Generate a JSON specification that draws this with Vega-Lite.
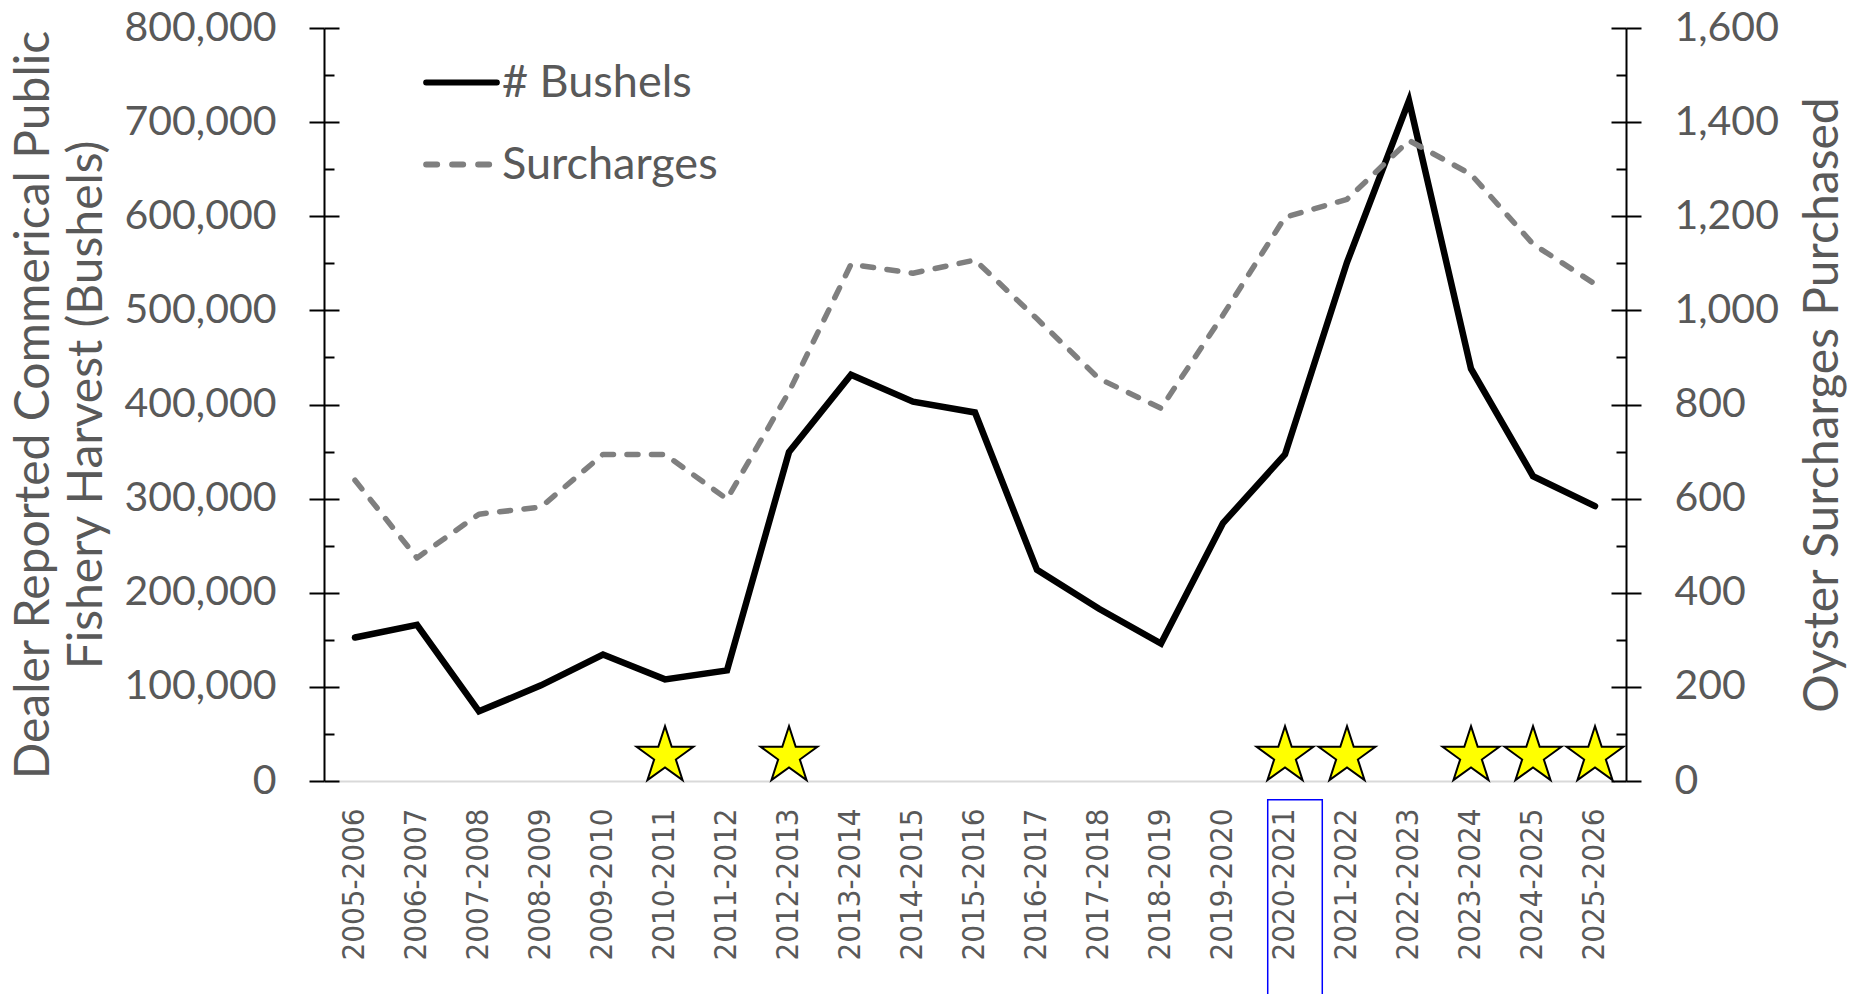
{
  "$schema": "https://vega.github.io/schema/vega-lite/v6.json",
  "width": 1302,
  "height": 753,
  "autosize": {"type": "none"},
  "padding": {"left": 324, "top": 28, "right": 229, "bottom": 213},
  "background": "white",
  "config": {"view": {"stroke": null}, "font": "Lato"},
  "data": {
    "values": [
      {"season": "2005-2006", "bushels": 152400, "surcharges": 639, "star": false},
      {"season": "2006-2007", "bushels": 166000, "surcharges": 474, "star": false},
      {"season": "2007-2008", "bushels": 74000, "surcharges": 567, "star": false},
      {"season": "2008-2009", "bushels": 101600, "surcharges": 582, "star": false},
      {"season": "2009-2010", "bushels": 134400, "surcharges": 694, "star": false},
      {"season": "2010-2011", "bushels": 108000, "surcharges": 694, "star": true},
      {"season": "2011-2012", "bushels": 117500, "surcharges": 599, "star": false},
      {"season": "2012-2013", "bushels": 349500, "surcharges": 827, "star": true},
      {"season": "2013-2014", "bushels": 431700, "surcharges": 1098, "star": false},
      {"season": "2014-2015", "bushels": 403000, "surcharges": 1079, "star": false},
      {"season": "2015-2016", "bushels": 391500, "surcharges": 1107, "star": false},
      {"season": "2016-2017", "bushels": 224300, "surcharges": 982, "star": false},
      {"season": "2017-2018", "bushels": 183000, "surcharges": 855, "star": false},
      {"season": "2018-2019", "bushels": 146000, "surcharges": 792, "star": false},
      {"season": "2019-2020", "bushels": 274000, "surcharges": 990, "star": false},
      {"season": "2020-2021", "bushels": 347000, "surcharges": 1198, "star": true},
      {"season": "2021-2022", "bushels": 551000, "surcharges": 1236, "star": true},
      {"season": "2022-2023", "bushels": 722800, "surcharges": 1361, "star": false},
      {"season": "2023-2024", "bushels": 438000, "surcharges": 1289, "star": true},
      {"season": "2024-2025", "bushels": 323800, "surcharges": 1141, "star": true},
      {"season": "2025-2026", "bushels": 292000, "surcharges": 1056, "star": true}
    ]
  },
  "encoding": {
    "x": {
      "field": "season",
      "type": "ordinal",
      "sort": null,
      "scale": {"type": "band", "paddingInner": 0, "paddingOuter": 0},
      "axis": {
        "title": null,
        "labelAngle": -90,
        "labelAlign": "right",
        "labelBaseline": "middle",
        "labelPadding": 27,
        "labelFont": "Liberation Sans Narrow, DejaVu Sans Condensed, Roboto Condensed, Liberation Sans",
        "labelFontSize": 31,
        "labelColor": "#595959",
        "ticks": false,
        "domainColor": "#d9d9d9",
        "domainWidth": 2,
        "grid": false
      }
    }
  },
  "layer": [
    {
      "mark": {"type": "line", "strokeWidth": 6.5, "strokeJoin": "miter", "strokeCap": "round"},
      "encoding": {
        "y": {
          "field": "bushels",
          "type": "quantitative",
          "scale": {"domain": [0, 800000], "nice": false},
          "axis": {
            "orient": "left",
            "values": [0, 100000, 200000, 300000, 400000, 500000, 600000, 700000, 800000],
            "format": ",.0f",
            "labelOverlap": false,
            "labelFlush": false,
            "labelFont": "Lato",
            "labelFontSize": 41,
            "labelColor": "#595959",
            "labelPadding": 33,
            "tickSize": 15,
            "tickColor": "#000000",
            "tickWidth": 2,
            "domainColor": "#000000",
            "domainWidth": 2,
            "grid": false,
            "title": ["Dealer Reported Commerical Public", "Fishery Harvest (Bushels)"],
            "titleFont": "Lato",
            "titleFontSize": 48,
            "titleFontWeight": "normal",
            "titleColor": "#595959",
            "titleLineHeight": 53,
            "titlePadding": 13
          }
        },
        "color": {
          "datum": "# Bushels",
          "type": "nominal",
          "scale": {"domain": ["# Bushels", "Surcharges"], "range": ["#000000", "#7f7f7f"]},
          "legend": {
            "orient": "none",
            "legendX": 99,
            "legendY": 16,
            "title": null,
            "padding": 0,
            "symbolType": "stroke",
            "symbolSize": 5000,
            "symbolStrokeWidth": 6,
            "labelFont": "Lato",
            "labelFontSize": 45,
            "labelColor": "#595959",
            "labelOffset": 2,
            "labelLimit": 0,
            "rowPadding": 20,
            "encode": {
              "symbols": {
                "update": {
                  "strokeDash": {"signal": "datum.value === 'Surcharges' ? [11, 15] : [1, 0]"},
                  "strokeCap": {"value": "round"}
                }
              }
            }
          }
        }
      }
    },
    {
      "mark": {"type": "line", "strokeWidth": 5.5, "strokeDash": [11, 13.5], "strokeCap": "round", "strokeJoin": "round"},
      "encoding": {
        "y": {
          "field": "surcharges",
          "type": "quantitative",
          "scale": {"domain": [0, 1600], "nice": false},
          "axis": {
            "orient": "right",
            "values": [0, 200, 400, 600, 800, 1000, 1200, 1400, 1600],
            "format": ",.0f",
            "labelOverlap": false,
            "labelFlush": false,
            "labelFont": "Lato",
            "labelFontSize": 41,
            "labelColor": "#595959",
            "labelPadding": 33,
            "tickSize": 15,
            "tickColor": "#000000",
            "tickWidth": 2,
            "domainColor": "#000000",
            "domainWidth": 2,
            "grid": false,
            "title": "Oyster Surcharges Purchased",
            "titleAngle": 270,
            "titleBaseline": "top",
            "titleFont": "Lato",
            "titleFontSize": 48,
            "titleFontWeight": "normal",
            "titleColor": "#595959",
            "titlePadding": 21
          }
        },
        "color": {"datum": "Surcharges", "type": "nominal"}
      }
    },
    {
      "transform": [{"filter": "datum.star"}],
      "mark": {
        "type": "point",
        "shape": "M0,-1L0.2245,-0.309L0.951,-0.309L0.3633,0.118L0.5878,0.809L0,0.382L-0.5878,0.809L-0.3633,0.118L-0.951,-0.309L-0.2245,-0.309Z",
        "size": 3570,
        "filled": true,
        "fill": "#ffff00",
        "stroke": "#000000",
        "strokeWidth": 2,
        "opacity": 1,
        "yOffset": -25
      },
      "encoding": {
        "y": {
          "datum": 0,
          "type": "quantitative",
          "scale": {"domain": [0, 800000], "nice": false},
          "axis": {
            "orient": "left",
            "values": [0, 100000, 200000, 300000, 400000, 500000, 600000, 700000, 800000],
            "labels": false,
            "domain": false,
            "grid": false,
            "title": null,
            "tickSize": -15,
            "tickColor": "#000000",
            "tickWidth": 2
          }
        }
      }
    },
    {
      "transform": [{"filter": "datum.season === '2020-2021'"}],
      "mark": {"type": "rect", "filled": false, "stroke": "#0000ff", "strokeWidth": 1.5, "width": {"band": 0.88}, "xOffset": 10},
      "encoding": {
        "y": {
          "datum": -20000,
          "type": "quantitative",
          "scale": {"domain": [0, 800000], "nice": false},
          "axis": {
            "orient": "left",
            "values": [50000, 150000, 250000, 350000, 450000, 550000, 650000, 750000],
            "labels": false,
            "domain": false,
            "grid": false,
            "title": null,
            "tickSize": -10,
            "tickColor": "#000000",
            "tickWidth": 2
          }
        },
        "y2": {"datum": -260000}
      }
    },
    {
      "mark": {"type": "point", "opacity": 0, "size": 1},
      "encoding": {
        "y": {
          "datum": 0,
          "type": "quantitative",
          "scale": {"domain": [0, 1600], "nice": false},
          "axis": {
            "orient": "right",
            "values": [0, 200, 400, 600, 800, 1000, 1200, 1400, 1600],
            "labels": false,
            "domain": false,
            "grid": false,
            "title": null,
            "tickSize": -15,
            "tickColor": "#000000",
            "tickWidth": 2
          }
        }
      }
    },
    {
      "mark": {"type": "point", "opacity": 0, "size": 1},
      "encoding": {
        "y": {
          "datum": 0,
          "type": "quantitative",
          "scale": {"domain": [0, 1600], "nice": false},
          "axis": {
            "orient": "right",
            "values": [100, 300, 500, 700, 900, 1100, 1300, 1500],
            "labels": false,
            "domain": false,
            "grid": false,
            "title": null,
            "tickSize": -10,
            "tickColor": "#000000",
            "tickWidth": 2
          }
        }
      }
    }
  ],
  "resolve": {"scale": {"y": "independent"}, "axis": {"y": "independent"}}
}
